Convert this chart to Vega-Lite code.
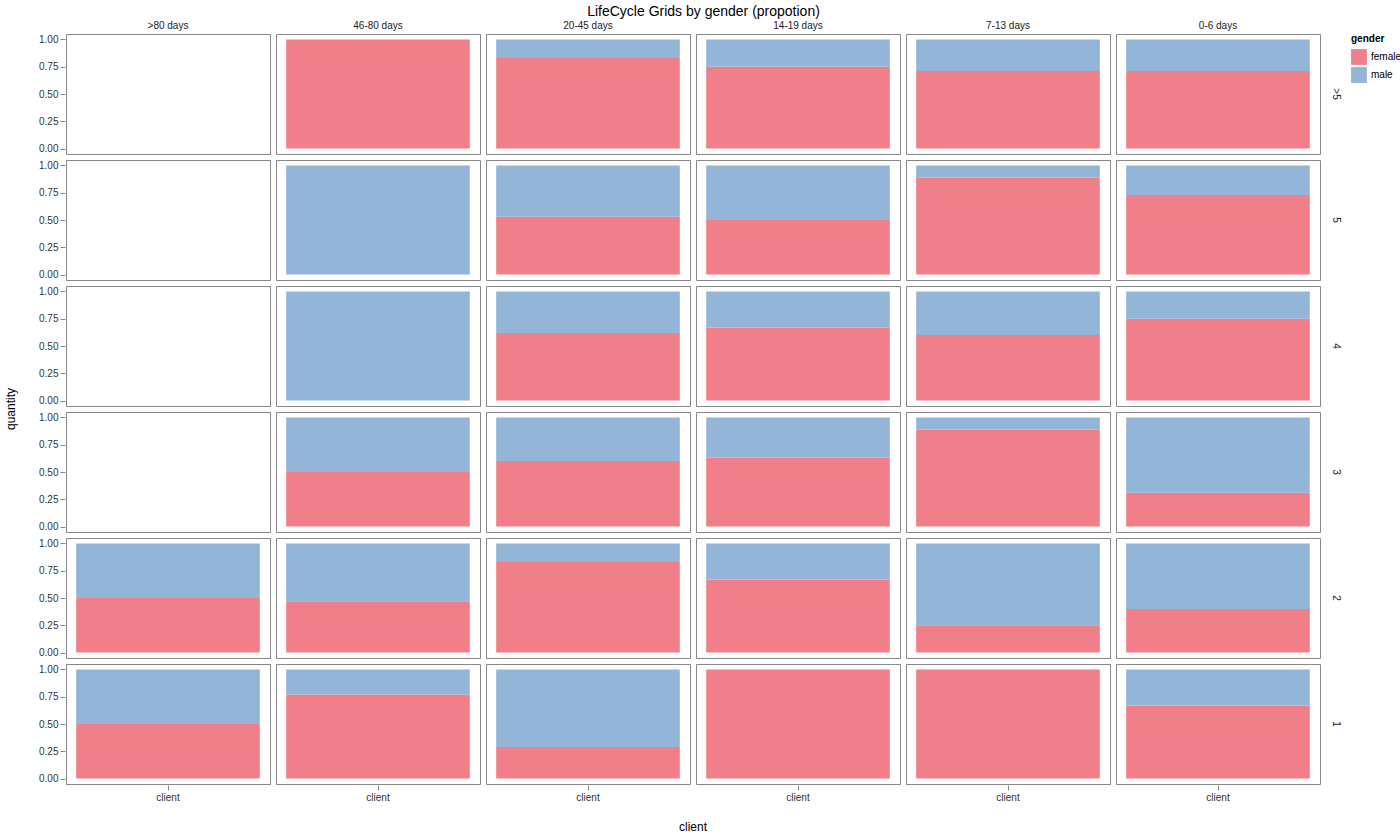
{
"$schema":"https://vega.github.io/schema/vega-lite/v6.json",
"title":{"text":"LifeCycle Grids by gender (propotion)","fontSize":14,"fontWeight":"normal","font":"Liberation Sans","color":"#000","anchor":"middle","offset":2},
"data":{"values":[
{"r":">5","c":">80 days","f":0,"m":0},{"r":">5","c":"46-80 days","f":1,"m":0},{"r":">5","c":"20-45 days","f":0.83,"m":0.17},{"r":">5","c":"14-19 days","f":0.75,"m":0.25},{"r":">5","c":"7-13 days","f":0.71,"m":0.29},{"r":">5","c":"0-6 days","f":0.71,"m":0.29},
{"r":"5","c":">80 days","f":0,"m":0},{"r":"5","c":"46-80 days","f":0,"m":1},{"r":"5","c":"20-45 days","f":0.53,"m":0.47},{"r":"5","c":"14-19 days","f":0.5,"m":0.5},{"r":"5","c":"7-13 days","f":0.89,"m":0.11},{"r":"5","c":"0-6 days","f":0.73,"m":0.27},
{"r":"4","c":">80 days","f":0,"m":0},{"r":"4","c":"46-80 days","f":0,"m":1},{"r":"4","c":"20-45 days","f":0.62,"m":0.38},{"r":"4","c":"14-19 days","f":0.67,"m":0.33},{"r":"4","c":"7-13 days","f":0.6,"m":0.4},{"r":"4","c":"0-6 days","f":0.75,"m":0.25},
{"r":"3","c":">80 days","f":0,"m":0},{"r":"3","c":"46-80 days","f":0.5,"m":0.5},{"r":"3","c":"20-45 days","f":0.6,"m":0.4},{"r":"3","c":"14-19 days","f":0.63,"m":0.37},{"r":"3","c":"7-13 days","f":0.89,"m":0.11},{"r":"3","c":"0-6 days","f":0.31,"m":0.69},
{"r":"2","c":">80 days","f":0.5,"m":0.5},{"r":"2","c":"46-80 days","f":0.47,"m":0.53},{"r":"2","c":"20-45 days","f":0.83,"m":0.17},{"r":"2","c":"14-19 days","f":0.67,"m":0.33},{"r":"2","c":"7-13 days","f":0.25,"m":0.75},{"r":"2","c":"0-6 days","f":0.4,"m":0.6},
{"r":"1","c":">80 days","f":0.5,"m":0.5},{"r":"1","c":"46-80 days","f":0.77,"m":0.23},{"r":"1","c":"20-45 days","f":0.29,"m":0.71},{"r":"1","c":"14-19 days","f":1,"m":0},{"r":"1","c":"7-13 days","f":1,"m":0},{"r":"1","c":"0-6 days","f":0.67,"m":0.33}
]},
"transform":[{"fold":["f","m"],"as":["g","quantity"]},{"calculate":"datum.g=='f'?'female':'male'","as":"gender"},{"calculate":"'client'","as":"client"}],
"facet":{
"row":{"field":"r","type":"nominal","sort":[">5","5","4","3","2","1"],"header":{"title":"quantity","titleOrient":"left","titleFontSize":12,"titleFontWeight":"normal","titleFont":"Liberation Sans","labelOrient":"right","labelAngle":90,"labelFontSize":10,"labelFont":"Liberation Sans","labelColor":"#222"}},
"column":{"field":"c","type":"nominal","sort":[">80 days","46-80 days","20-45 days","14-19 days","7-13 days","0-6 days"],"header":{"title":"client","titleOrient":"bottom","titleFontSize":12,"titleFontWeight":"normal","titleFont":"Liberation Sans","labelOrient":"top","labelFontSize":10,"labelFont":"Liberation Sans","labelColor":"#222","labelPadding":2}}
},
"spacing":4,
"spec":{
"width":204,"height":120,
"mark":{"type":"bar"},
"encoding":{
"x":{"field":"client","type":"nominal","title":null,"scale":{"paddingInner":0.1,"paddingOuter":0.05},"axis":{"labelAngle":0,"ticks":true,"domain":false}},
"y":{"field":"quantity","type":"quantitative","title":null,"stack":"zero","scale":{"domain":[-0.05,1.05],"nice":false},"axis":{"values":[0,0.25,0.5,0.75,1],"format":".2f","grid":false,"domain":false}},
"color":{"field":"gender","type":"nominal","scale":{"domain":["female","male"],"range":["#F07F8A","#93B5D7"]},"legend":{"title":"gender","symbolType":"square","symbolSize":250,"symbolStrokeWidth":0,"orient":"right","offset":10}},
"order":{"field":"g","sort":"ascending"}
}
},
"config":{"view":{"stroke":"#888"},"font":"Liberation Sans","axis":{"labelFontSize":10,"titleFontSize":12,"titleFontWeight":"normal","labelColor":"#333"},"legend":{"labelFontSize":10,"titleFontSize":10}}
}
